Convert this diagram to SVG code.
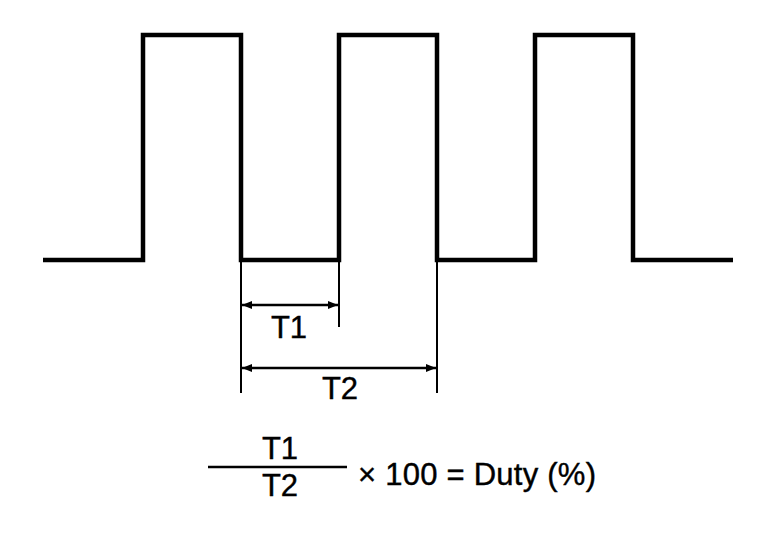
<svg xmlns="http://www.w3.org/2000/svg" width="768" height="544" viewBox="0 0 768 544">
<style>
.wave{fill:none;stroke:#000;stroke-width:4.5;stroke-linejoin:miter}
.ext{stroke:#000;stroke-width:2}
.dim{stroke:#000;stroke-width:2.5}
.t{font-family:"Liberation Sans",Arial,sans-serif;font-size:31px;fill:#000;stroke:#000;stroke-width:0.4}
</style>
<defs>
<marker id="ah" viewBox="0 0 10 8" refX="10" refY="4" markerWidth="10" markerHeight="8" markerUnits="userSpaceOnUse" orient="auto-start-reverse">
<path d="M0,0 L10,4 L0,8 Z" fill="#000"/>
</marker>
</defs>
<rect width="768" height="544" fill="#fff"/>
<g id="waveform">
<path class="wave" d="M43,260 H143 V35 H241 V260 H339 V35 H437 V260 H535 V35 H633 V260 H733"/>
</g>
<g id="connectors">
<line class="ext" x1="241" y1="260" x2="241" y2="393"/>
<line class="ext" x1="339" y1="260" x2="339" y2="327"/>
<line class="ext" x1="437" y1="260" x2="437" y2="393"/>
<line class="dim" x1="242" y1="305" x2="338" y2="305" marker-start="url(#ah)" marker-end="url(#ah)"/>
<line class="dim" x1="242" y1="368" x2="436" y2="368" marker-start="url(#ah)" marker-end="url(#ah)"/>
</g>
<g id="label-t1">
<text class="t" x="289" y="338" text-anchor="middle">T1</text>
</g>
<g id="label-t2">
<text class="t" x="340" y="399" text-anchor="middle">T2</text>
</g>
<g id="formula">
<text class="t" x="280" y="459" text-anchor="middle">T1</text>
<line x1="208" y1="467" x2="347" y2="467" stroke="#000" stroke-width="2.5"/>
<text class="t" x="280" y="496" text-anchor="middle">T2</text>
<text class="t" x="358" y="485" textLength="238" lengthAdjust="spacing">× 100 = Duty (%)</text>
</g>
</svg>
